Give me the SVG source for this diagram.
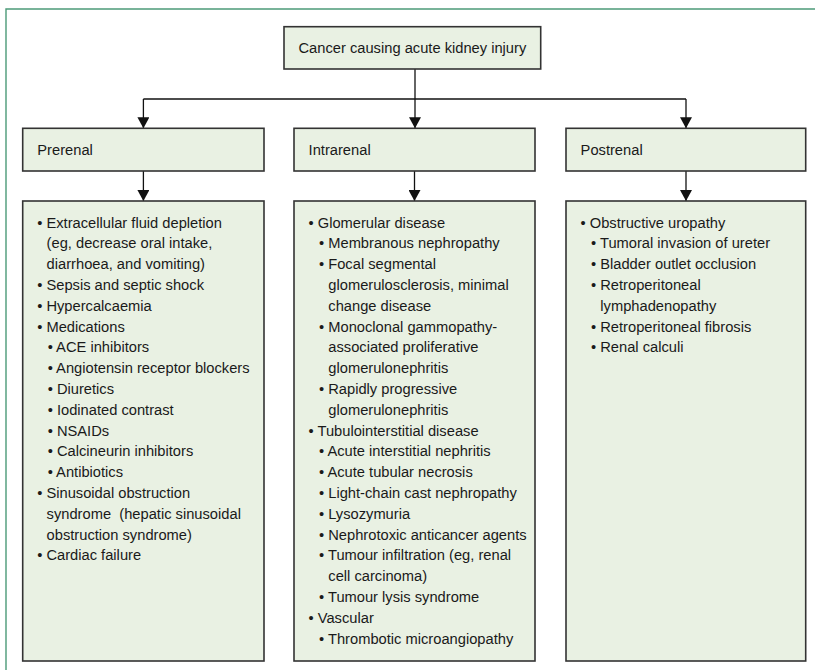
<svg xmlns="http://www.w3.org/2000/svg" width="815" height="670" viewBox="0 0 815 670">
<defs>
<style>
.box{fill:#e9f1e3;stroke:#333;stroke-width:1.6}
.t{font-family:"Liberation Sans",Arial,sans-serif;font-size:14.7px;fill:#1a1a1a}
.c{fill:none;stroke:#111;stroke-width:1.3}
.frame{fill:none;stroke:#4c9a78;stroke-width:1.4}
</style>
<marker id="ah" viewBox="0 0 11 12" markerWidth="11" markerHeight="12" refX="11" refY="6" orient="auto" markerUnits="userSpaceOnUse">
<path d="M0,0 L11,6 L0,12 z" fill="#111"/>
</marker>
</defs>
<rect width="815" height="670" fill="#fff"/>
<path class="frame" d="M6,670 V9 H815"/>

<g id="connectors">
<path class="c" d="M415,69 V99"/>
<path class="c" d="M143.4,99 H686"/>
<path class="c" d="M143.4,99 V128.3" marker-end="url(#ah)"/>
<path class="c" d="M415,99 V128.3" marker-end="url(#ah)"/>
<path class="c" d="M686,99 V128.3" marker-end="url(#ah)"/>
<path class="c" d="M143.4,171 V201" marker-end="url(#ah)"/>
<path class="c" d="M414.5,171 V201" marker-end="url(#ah)"/>
<path class="c" d="M686,171 V201" marker-end="url(#ah)"/>
</g>

<g id="root">
<rect class="box" x="284" y="26.7" width="256.7" height="42.3"/>
<text class="t" x="412.4" y="52.7" text-anchor="middle">Cancer causing acute kidney injury</text>
</g>

<g id="prerenal">
<rect class="box" x="22.7" y="128.3" width="241.3" height="42.7"/>
<text class="t" x="37.3" y="155">Prerenal</text>
</g>
<g id="intrarenal">
<rect class="box" x="294" y="128.3" width="241" height="42.7"/>
<text class="t" x="308.6" y="155">Intrarenal</text>
</g>
<g id="postrenal">
<rect class="box" x="566" y="128.3" width="239.7" height="42.7"/>
<text class="t" x="580.6" y="155">Postrenal</text>
</g>

<g id="prerenal-list">
<rect class="box" x="22.7" y="201" width="241.3" height="460"/>
<text class="t" x="37.2" y="227.5">• Extracellular fluid depletion</text>
<text class="t" x="46.6" y="248.3">(eg, decrease oral intake,</text>
<text class="t" x="46.6" y="269.1">diarrhoea, and vomiting)</text>
<text class="t" x="37.2" y="289.9">• Sepsis and septic shock</text>
<text class="t" x="37.2" y="310.7">• Hypercalcaemia</text>
<text class="t" x="37.2" y="331.5">• Medications</text>
<text class="t" x="47.7" y="352.3">• ACE inhibitors</text>
<text class="t" x="47.7" y="373.1">• Angiotensin receptor blockers</text>
<text class="t" x="47.7" y="393.9">• Diuretics</text>
<text class="t" x="47.7" y="414.7">• Iodinated contrast</text>
<text class="t" x="47.7" y="435.5">• NSAIDs</text>
<text class="t" x="47.7" y="456.3">• Calcineurin inhibitors</text>
<text class="t" x="47.7" y="477.1">• Antibiotics</text>
<text class="t" x="37.2" y="497.9">• Sinusoidal obstruction</text>
<text class="t" x="46.6" y="518.7" xml:space="preserve">syndrome  (hepatic sinusoidal</text>
<text class="t" x="46.6" y="539.5">obstruction syndrome)</text>
<text class="t" x="37.2" y="560.3">• Cardiac failure</text>
</g>

<g id="intrarenal-list">
<rect class="box" x="294" y="201" width="241" height="460"/>
<text class="t" x="308.5" y="227.5">• Glomerular disease</text>
<text class="t" x="319" y="248.3">• Membranous nephropathy</text>
<text class="t" x="319" y="269.1">• Focal segmental</text>
<text class="t" x="328.3" y="289.9">glomerulosclerosis, minimal</text>
<text class="t" x="328.3" y="310.7">change disease</text>
<text class="t" x="319" y="331.5">• Monoclonal gammopathy-</text>
<text class="t" x="328.3" y="352.3">associated proliferative</text>
<text class="t" x="328.3" y="373.1">glomerulonephritis</text>
<text class="t" x="319" y="393.9">• Rapidly progressive</text>
<text class="t" x="328.3" y="414.7">glomerulonephritis</text>
<text class="t" x="308.5" y="435.5">• Tubulointerstitial disease</text>
<text class="t" x="319" y="456.3">• Acute interstitial nephritis</text>
<text class="t" x="319" y="477.1">• Acute tubular necrosis</text>
<text class="t" x="319" y="497.9">• Light-chain cast nephropathy</text>
<text class="t" x="319" y="518.7">• Lysozymuria</text>
<text class="t" x="319" y="539.5">• Nephrotoxic anticancer agents</text>
<text class="t" x="319" y="560.3">• Tumour infiltration (eg, renal</text>
<text class="t" x="328.3" y="581.1">cell carcinoma)</text>
<text class="t" x="319" y="601.9">• Tumour lysis syndrome</text>
<text class="t" x="308.5" y="622.7">• Vascular</text>
<text class="t" x="319" y="643.5">• Thrombotic microangiopathy</text>
</g>

<g id="postrenal-list">
<rect class="box" x="566" y="201" width="239.7" height="460"/>
<text class="t" x="580.5" y="227.5">• Obstructive uropathy</text>
<text class="t" x="591" y="248.3">• Tumoral invasion of ureter</text>
<text class="t" x="591" y="269.1">• Bladder outlet occlusion</text>
<text class="t" x="591" y="289.9">• Retroperitoneal</text>
<text class="t" x="600.3" y="310.7">lymphadenopathy</text>
<text class="t" x="591" y="331.5">• Retroperitoneal fibrosis</text>
<text class="t" x="591" y="352.3">• Renal calculi</text>
</g>
</svg>
